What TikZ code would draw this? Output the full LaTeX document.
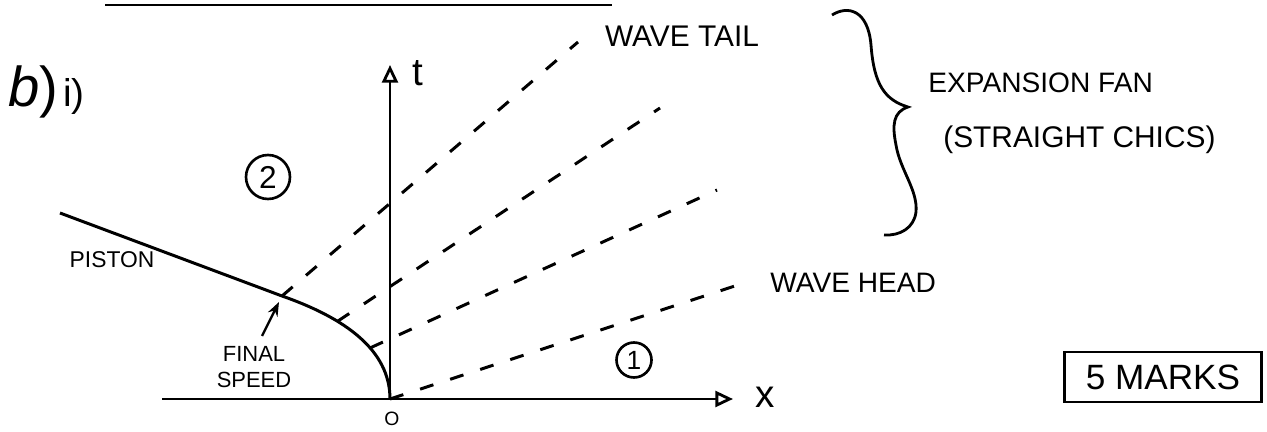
\documentclass[tikz,border=0pt]{standalone}
\usepackage{fontspec}
\setmainfont{Liberation Sans}
\usetikzlibrary{arrows.meta}

\begin{document}
\begin{tikzpicture}[x=0.02cm, y=-0.02cm]
\tikzstyle{axis} = [line width=1.6pt, -{Triangle[open, length=10pt, width=9pt]}]
\tikzstyle{chic} = [line width=1.7pt, dash pattern=on 8pt off 10pt]
\tikzstyle{piston} = [line width=1.7pt]
\tikzstyle{pointer} = [line width=1.3pt, -{Stealth[length=8pt, width=6pt]}]
\tikzstyle{hand} = [inner sep=0pt, font=\fontsize{16}{18}\selectfont]
\tikzstyle{state} = [circle, draw, line width=1.5pt, inner sep=0pt]

\useasboundingbox (0,0) rectangle (1267,432);

% heading
\coordinate (rulestart) at (105,5);
\coordinate (ruleend) at (612,5);
\draw [line width=1.6pt] (rulestart) -- (ruleend);
\node (part) [hand, anchor=west] at (8,92) {{\fontsize{32}{34}\selectfont\itshape b\upshape)}\,{\fontsize{22}{24}\selectfont i)}};

% axes
\coordinate (origin) at (390,399);
\coordinate (xstart) at (162,399);
\coordinate (xend) at (733,399);
\coordinate (tend) at (390,65);
\draw [axis] (xstart) -- (xend);
\draw [axis] (origin) -- (tend);
\node (tlabel) [hand, font=\fontsize{22}{24}\selectfont] at (418,73) {t};
\node (xlabel) [hand, font=\fontsize{22}{24}\selectfont] at (765,397) {x};
\node (olabel) [hand, font=\fontsize{11}{13}\selectfont] at (392,419) {O};

% piston path
\coordinate (pistonstart) at (60,213);
\coordinate (final) at (282,296);
\draw [piston] (pistonstart) -- (final)
  .. controls (345,318) and (390,350) .. coordinate[pos=0.33] (fan2) coordinate[pos=0.6] (fan3) (origin);
\node (pistonlabel) [hand, font=\fontsize{13}{15}\selectfont] at (112,260) {PISTON};

% expansion fan
\coordinate (tailend) at (578,42);
\coordinate (fan2end) at (660,108);
\coordinate (fan3end) at (717,190);
\coordinate (headend) at (747,282);
\draw [chic] (final) -- (tailend);
\draw [chic] (fan2) -- (fan2end);
\draw [chic] (fan3) -- (fan3end);
\draw [chic] (origin) -- (headend);
\node (taillabel) [hand, font=\fontsize{17}{19}\selectfont] at (682,36) {WAVE TAIL};
\node (headlabel) [hand, anchor=west] at (770,283) {WAVE HEAD};

% final speed
\node (speed) [hand, align=center, font=\fontsize{12.5}{14.5}\selectfont] at (254,367) {FINAL\\SPEED};
\coordinate (speedfoot) at (262,336);
\coordinate (speedtip) at (279,302);
\draw [pointer] (speedfoot) -- (speedtip);

% regions
\node (region2) [state, minimum size=0.88cm, font=\fontsize{18}{20}\selectfont] at (268,177) {2};
\node (region1) [state, minimum size=0.7cm, font=\fontsize{15}{17}\selectfont] at (634,360) {1};

% brace and note
\coordinate (bracetop) at (832,15);
\coordinate (bracetip) at (908,107);
\coordinate (bracefoot) at (884,235);
\draw [line width=1.6pt] (bracetop) .. controls (848,5) and (868,10) .. (871,45)
  .. controls (874,85) and (885,100) .. (bracetip)
  .. controls (893,112) and (892,125) .. (896,145)
  .. controls (900,170) and (918,190) .. (916,212)
  .. controls (914,228) and (900,236) .. (bracefoot);
\node (fan) [hand, anchor=west] at (928,83) {EXPANSION FAN};
\node (chics) [hand, anchor=west, font=\fontsize{17}{19}\selectfont] at (943,140) {(STRAIGHT CHICS)};

% marks
\node (marks) [draw, line width=1.6pt, minimum width=3.94cm, minimum height=1cm, font=\fontsize{20}{22}\selectfont] at (1163,377) {5 MARKS};
\end{tikzpicture}
\end{document}
